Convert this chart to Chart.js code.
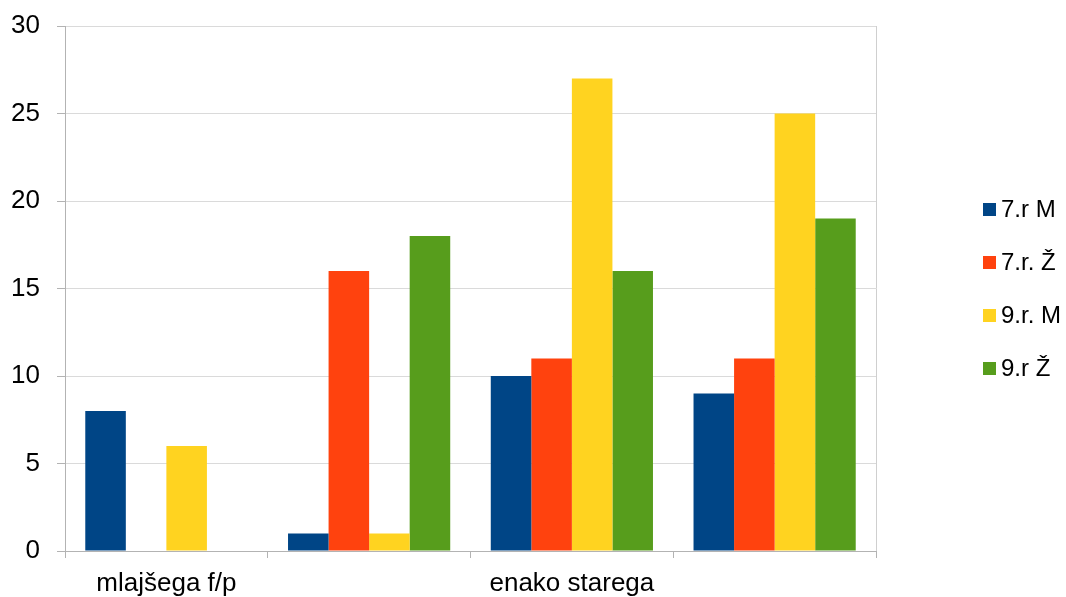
<!DOCTYPE html>
<html>
<head>
<meta charset="utf-8">
<script src="https://cdn.jsdelivr.net/npm/chart.js@4/dist/chart.umd.min.js"></script>
<style>
  html, body { margin: 0; padding: 0; background: #fff; }
  #wrap { width: 1066px; height: 597px; }
</style>
</head>
<body>
<div id="wrap"><canvas id="myChart"></canvas></div>
<script>
// categories (2nd and 4th labels are not shown in the original)
const categories = ['mlajšega f/p', '', 'enako starega', ''];

const seriesNames = ['7.r M', '7.r. Ž', '9.r. M', '9.r Ž'];
const r7M = [8, 1, 10, 9];
const r7Z = [0, 16, 11, 11];
const r9M = [6, 1, 27, 25];
const r9Z = [0, 18, 16, 19];

const yTicks = [0, 5, 10, 15, 20, 25, 30];

const COLORS = ['#004586', '#ff420e', '#ffd320', '#579d1c'];

const fontFamily = '"Liberation Sans", Arial, sans-serif';

// right frame line of the plot area
const rightBorder = {
  id: 'rightBorder',
  afterDatasetsDraw(chart) {
    const a = chart.chartArea;
    const ctx = chart.ctx;
    ctx.save();
    ctx.strokeStyle = '#cfcfcf';
    ctx.lineWidth = 1;
    ctx.beginPath();
    ctx.moveTo(Math.round(a.right) + 0.5, a.top);
    ctx.lineTo(Math.round(a.right) + 0.5, a.bottom);
    ctx.stroke();
    ctx.restore();
  }
};

// legend drawn by hand so the box/text spacing matches the original
const sideLegend = {
  id: 'sideLegend',
  afterDraw(chart) {
    const a = chart.chartArea;
    const ctx = chart.ctx;
    const sets = chart.data.datasets;
    const step = 53;
    const mid = (a.top + a.bottom) / 2;
    const y0 = mid - step * (sets.length - 1) / 2;
    ctx.save();
    ctx.font = '24px ' + fontFamily;
    ctx.textBaseline = 'middle';
    ctx.textAlign = 'left';
    sets.forEach((ds, i) => {
      const y = y0 + i * step;
      ctx.fillStyle = ds.backgroundColor;
      ctx.fillRect(983, Math.round(y - 6.5), 13, 13);
      ctx.fillStyle = '#000';
      ctx.fillText(ds.label, 1001, y + 1);
    });
    ctx.restore();
  }
};

const allSeries = [r7M, r7Z, r9M, r9Z];
const data = {
  labels: categories,
  datasets: allSeries.map((vals, i) => ({
    label: seriesNames[i],
    data: vals,
    backgroundColor: COLORS[i],
    borderWidth: 0,
    categoryPercentage: 0.8,
    barPercentage: 1.0
  }))
};

const config = {
  type: 'bar',
  data: data,
  plugins: [rightBorder, sideLegend],
  options: {
    responsive: true,
    maintainAspectRatio: false,
    animation: false,
    layout: { padding: { left: 11, top: 26, right: 190, bottom: 0 } },
    plugins: {
      legend: { display: false },
      tooltip: { enabled: false }
    },
    scales: {
      x: {
        afterFit(axis) {
          axis.height = 46;
          axis.paddingLeft = 0;
          axis.paddingRight = 0;
        },
        grid: {
          drawOnChartArea: false,
          drawTicks: true,
          tickLength: 7,
          color: '#b3b3b3',
          offset: true
        },
        border: { color: '#b3b3b3' },
        ticks: {
          color: '#000',
          maxRotation: 0,
          autoSkip: false,
          padding: 10,
          font: { family: fontFamily, size: 26 }
        }
      },
      y: {
        min: 0,
        max: 30,
        afterBuildTicks(axis) {
          axis.ticks = yTicks.map(v => ({ value: v }));
        },
        afterFit(axis) {
          axis.width = 54;
          axis.paddingTop = 0;
          axis.paddingBottom = 0;
        },
        grid: {
          color: '#dadada',
          tickLength: 8,
          tickColor: '#b3b3b3'
        },
        border: { color: '#b3b3b3' },
        ticks: {
          color: '#000',
          padding: 17,
          font: { family: fontFamily, size: 26 }
        }
      }
    }
  }
};

const myChart = new Chart(document.getElementById('myChart'), config);
</script>
</body>
</html>
